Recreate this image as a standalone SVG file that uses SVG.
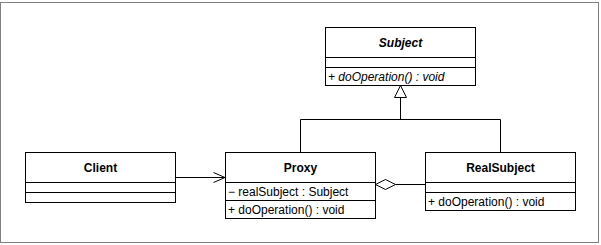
<svg xmlns="http://www.w3.org/2000/svg" width="601" height="245" viewBox="0 0 601 245">
<style>
.box{fill:#fff;stroke:#000;stroke-width:1}
.ln{fill:none;stroke:#000;stroke-width:1}
.name{font-family:"Liberation Sans",Arial,sans-serif;font-size:12px;font-weight:bold;text-anchor:middle;fill:#000}
.mem{font-family:"Liberation Sans",Arial,sans-serif;font-size:12px;fill:#000}
.it{font-style:italic}
</style>
<rect x="0" y="0" width="601" height="245" fill="#fff"/>
<rect x="0.5" y="2.5" width="598" height="240" fill="#fff" stroke="#808080" stroke-width="1"/>
<g id="connectors">
  <path class="ln" d="M300.5,152 V119.5 H500.5 V152 M400.5,119.5 V97.5"/>
  <polygon class="box" points="400.5,85.5 394.5,97.5 406.5,97.5"/>
  <path class="ln" d="M175.5,177.5 H225"/>
  <polyline class="ln" points="213.5,172.5 225,177.5 213.5,182.5"/>
  <path class="ln" d="M395.5,184.5 H425"/>
  <polygon class="box" points="375.5,184.5 385.5,179.5 395.5,184.5 385.5,189.5"/>
</g>
<g id="Subject">
  <rect class="box" x="325.5" y="27.5" width="150" height="58"/>
  <path class="ln" d="M325.5,57.5 H475.5 M325.5,67.5 H475.5"/>
  <text class="name it" x="400.5" y="47">Subject</text>
  <text class="mem it" x="328" y="81">+ doOperation() : void</text>
</g>
<g id="Client">
  <rect class="box" x="25.5" y="152.5" width="150" height="50"/>
  <path class="ln" d="M25.5,182.5 H175.5 M25.5,192.5 H175.5"/>
  <text class="name" x="100.5" y="172">Client</text>
</g>
<g id="Proxy">
  <rect class="box" x="225.5" y="152.5" width="150" height="66"/>
  <path class="ln" d="M225.5,182.5 H375.5 M225.5,200.5 H375.5"/>
  <text class="name" x="300.5" y="172">Proxy</text>
  <text class="mem" x="228" y="195.5">− realSubject : Subject</text>
  <text class="mem" x="228" y="213.5">+ doOperation() : void</text>
</g>
<g id="RealSubject">
  <rect class="box" x="425.5" y="152.5" width="150" height="58"/>
  <path class="ln" d="M425.5,182.5 H575.5 M425.5,192.5 H575.5"/>
  <text class="name" x="500.5" y="172">RealSubject</text>
  <text class="mem" x="428" y="205.5">+ doOperation() : void</text>
</g>
</svg>
